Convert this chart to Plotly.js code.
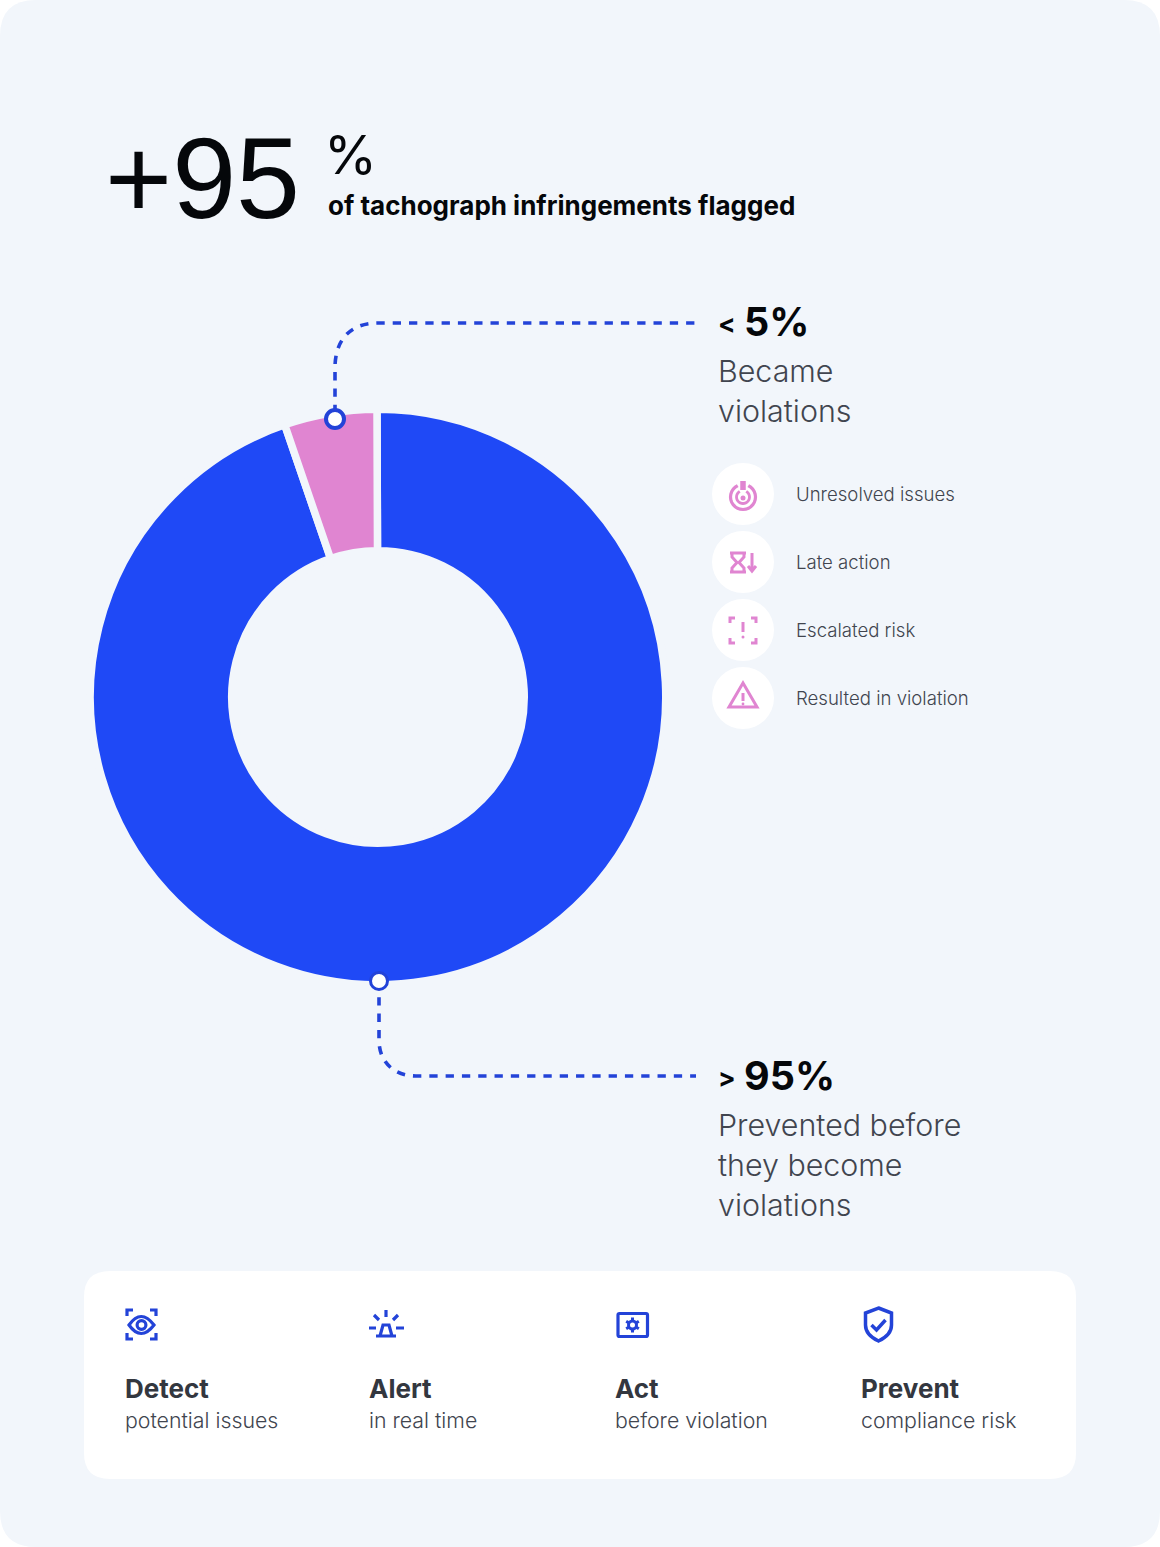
<!DOCTYPE html>
<html>
<head>
<meta charset="utf-8">
<script src="https://cdn.plot.ly/plotly-3.0.1.min.js"></script>
<style>html,body{margin:0;padding:0;background:#fff}#chart{width:1160px;height:1547px}</style>
</head>
<body>
<div id="chart"></div>
<script>
// ---- data ----
const sliceLabels = ["Prevented before they become violations", "Became violations"];
const sliceValues = [94.8, 5.2];
const sliceColors = ["#1f49f6", "#e085d1"];
const headline = "+95";
const headlineUnit = "%";
const subtitle = "of tachograph infringements flagged";
const violationsValue = "5%";
const preventedValue = "95%";
const violationsLines = ["Became", "violations"];
const preventedLines = ["Prevented before", "they become", "violations"];
const legendItems = ["Unresolved issues", "Late action", "Escalated risk", "Resulted in violation"];
const stepTitles = ["Detect", "Alert", "Act", "Prevent"];
const stepTexts = ["potential issues", "in real time", "before violation", "compliance risk"];

// ---- style ----
const BG = "#f2f6fb", PINK = "#e085d1", LINE = "#2343d8", DARK = "#41454f", BLACK = "#05070a";
const W = 1160, H = 1547;
const BODY = "Inter, 'Open Sans', sans-serif";

const shapes = [], annotations = [];
function roundRect(x0, y0, x1, y1, r) {
  return `M${x0 + r},${y0} L${x1 - r},${y0} Q${x1},${y0} ${x1},${y0 + r} L${x1},${y1 - r} Q${x1},${y1} ${x1 - r},${y1} L${x0 + r},${y1} Q${x0},${y1} ${x0},${y1 - r} L${x0},${y0 + r} Q${x0},${y0} ${x0 + r},${y0} Z`;
}
function fillPath(path, color, layer) {
  shapes.push({type: "path", xref: "x", yref: "y", path, fillcolor: color, line: {width: 0}, layer: layer || "below"});
}
function stroke(path, color, w, dash) {
  shapes.push({type: "path", xref: "x", yref: "y", path, fillcolor: "rgba(0,0,0,0)", line: {color, width: w, dash: dash || "solid"}, layer: "above"});
}
function circle(cx, cy, r, fill, lineColor, w, layer) {
  shapes.push({type: "circle", xref: "x", yref: "y", x0: cx - r, x1: cx + r, y0: cy - r, y1: cy + r,
    fillcolor: fill, line: {color: lineColor || fill, width: w || 0}, layer: layer || "above"});
}
function arc(cx, cy, r, a0, a1) {
  let p = "";
  for (let i = 0; i <= 24; i++) {
    const a = (a0 + (a1 - a0) * i / 24) * Math.PI / 180;
    p += (i ? " L" : "M") + (cx + r * Math.sin(a)).toFixed(2) + "," + (cy - r * Math.cos(a)).toFixed(2);
  }
  return p;
}
function text(x, y, t, size, color, opts) {
  opts = opts || {};
  annotations.push({xref: "x", yref: "y", x, y, text: t, showarrow: false, xanchor: "left", yanchor: "middle",
    borderpad: 0, font: {family: opts.family || BODY, size, color, weight: opts.weight || 400}});
}

// page and card
fillPath(roundRect(0, 0, W, H, 36), BG);
fillPath(roundRect(84, 1271, 1076, 1479, 26), "#ffffff");

// header
text(103.5, 178, headline, 115, BLACK, {family: "'Liberation Sans', Arial, sans-serif"});
text(323, 154, headlineUnit, 54, BLACK, {weight: 400});
text(327, 205, subtitle, 26, BLACK, {weight: 700});

// connectors
const DASH = "8.3px,8px";
stroke("M335,413 L335,368 C335,340 350,323 378,323 L696,323", LINE, 3.6, DASH);
stroke("M379,981 L379,1040 C379,1062 394,1076 416,1076 L696,1076", LINE, 3.6, DASH);
circle(335, 419, 9, "#ffffff", LINE, 4);
circle(379, 981, 8.5, "#ffffff", LINE, 3);

// callouts
text(716.5, 323, "&lt;", 26, BLACK, {weight: 700});
text(742.5, 322, violationsValue, 39.5, BLACK, {weight: 700});
violationsLines.forEach((s, i) => text(716.5, 371 + 40 * i, s, 30.4, DARK, {weight: 300}));
text(716.5, 1077, "&gt;", 26, BLACK, {weight: 700});
text(742.5, 1076, preventedValue, 39.5, BLACK, {weight: 700});
preventedLines.forEach((s, i) => text(716.5, 1125 + 40 * i, s, 30.4, DARK, {weight: 300}));

// legend
const legendY = [494, 562, 630, 698];
legendItems.forEach((s, i) => {
  circle(743, legendY[i], 31, "#ffffff", "#ffffff", 0, "below");
  text(794.5, legendY[i], s, 18.6, DARK, {weight: 300});
});
const pw = 3;
// unresolved issues
stroke(arc(743, 497, 12.5, 25, 335), PINK, 3.2);
stroke(arc(743, 497, 6.5, 30, 330), PINK, 2.8);
circle(743, 498, 2.5, PINK);
stroke("M743,481 L743,490", PINK, 5.5);
// late action
stroke("M730,553 L746,553 M730,572 L746,572 M732,553 L732,557 L737,562.5 L732,568 L732,572 M744,553 L744,557 L739,562.5 L744,568 L744,572", PINK, pw);
stroke("M752,553 L752,571 M748,566 L752,571 L756,566", PINK, pw);
// escalated risk
stroke("M730,623 L730,618 L735,618 M751,618 L756,618 L756,623 M730,638 L730,643 L735,643 M751,643 L756,643 L756,638", PINK, pw);
stroke("M743,622 L743,632", PINK, pw);
circle(743, 637, 1.5, PINK);
// violation
stroke("M743,683 L757,707 L729,707 Z", PINK, pw);
stroke("M743,693 L743,701", PINK, pw);
circle(743, 704, 1.4, PINK);

// steps
const stepX = [123.5, 368, 614, 860];
stepTitles.forEach((s, i) => {
  text(stepX[i], 1388, s, 26, "#33373f", {weight: 700});
  text(stepX[i], 1420, stepTexts[i], 21.3, DARK, {weight: 300});
});
const bw = 3.2;
// eye
stroke("M127,1316 L127,1310 L133,1310 M150,1310 L156,1310 L156,1316 M127,1333 L127,1339 L133,1339 M150,1339 L156,1339 L156,1333", LINE, bw);
stroke("M129,1325 Q141,1308 154,1325 Q141,1342 129,1325 Z", LINE, bw);
circle(141.5, 1325, 4.4, "rgba(0,0,0,0)", LINE, bw);
// alert
stroke("M386,1310 L386,1317 M374,1315 L379,1320 M398,1315 L393,1320 M369,1328 L376,1328 M396,1328 L404,1328", LINE, bw);
stroke("M376,1336 L396,1336 M380,1336 L383,1325 L389,1325 L392,1336", LINE, bw);
// act
stroke(roundRect(618, 1313.5, 647.5, 1336.5, 1.5), LINE, bw);
circle(632.5, 1325, 4, "rgba(0,0,0,0)", LINE, 3);
stroke("M632.5,1317.5 L632.5,1321 M632.5,1329 L632.5,1332.5 M626.2,1321.3 L629,1323 M636,1327 L638.8,1328.7 M626.2,1328.7 L629,1327 M636,1323 L638.8,1321.3", LINE, 3);
// shield
stroke("M878.5,1308 L891.5,1313 L891.5,1325 C891.5,1333 885,1338 878.5,1341 C872,1338 865.5,1333 865.5,1325 L865.5,1313 Z", LINE, 3.5);
stroke("M871.5,1325 L876.5,1330 L885.5,1320", LINE, 3.5);

const GAP = 7.5, R = 284 + GAP / 2, CX = 378, CY = 697, INNER = 150 - GAP / 2;
const data = [
  {type: "scatter", x: [0], y: [0], mode: "none", hoverinfo: "skip", showlegend: false},
  {type: "pie", labels: sliceLabels, values: sliceValues, sort: false, direction: "clockwise", rotation: -0.2,
   hole: INNER / R, textinfo: "none", hoverinfo: "label+percent", showlegend: false,
   marker: {colors: sliceColors, line: {color: BG, width: GAP}},
   domain: {x: [(CX - R) / W, (CX + R) / W], y: [1 - (CY + R) / H, 1 - (CY - R) / H]}}
];
const layout = {
  width: W, height: H, margin: {l: 0, r: 0, t: 0, b: 0, pad: 0},
  paper_bgcolor: "#ffffff", plot_bgcolor: "rgba(0,0,0,0)", showlegend: false,
  xaxis: {range: [0, W], visible: false, fixedrange: true},
  yaxis: {range: [H, 0], visible: false, fixedrange: true},
  shapes, annotations
};
Plotly.newPlot("chart", data, layout, {displayModeBar: false, staticPlot: true});
</script>
</body>
</html>
